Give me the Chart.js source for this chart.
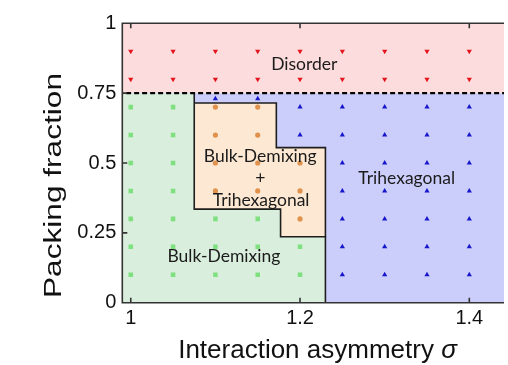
<!DOCTYPE html>
<html>
<head>
<meta charset="utf-8">
<script src="https://cdn.jsdelivr.net/npm/chart.js@4/dist/chart.umd.min.js"></script>
<style>
  html, body { margin: 0; padding: 0; background: #fff; }
  #wrap { width: 508px; height: 365px; }
</style>
</head>
<body>
<div id="wrap"><canvas id="canvas" width="508" height="365"></canvas></div>
<script>
// phase diagram, packing fraction vs interaction asymmetry sigma
const xTicks = [1, 1.2, 1.4]
const xTickLabels = ['1', '1.2', '1.4']
const yTicks = [0, 0.25, 0.5, 0.75, 1]
const yTickLabels = ['0', '0.25', '0.5', '0.75', '1']

// simulated state points: [sigma, packing fractions]
const disorder = [
  [1.00, [0.8, 0.9]], [1.05, [0.8, 0.9]], [1.10, [0.8, 0.9]], [1.15, [0.8, 0.9]], [1.20, [0.8, 0.9]],
  [1.25, [0.8, 0.9]], [1.30, [0.8, 0.9]], [1.35, [0.8, 0.9]], [1.40, [0.8, 0.9]]
]
const bulkDemixing = [
  [1.00, [0.1, 0.2, 0.3, 0.4, 0.5, 0.6, 0.7]],
  [1.05, [0.1, 0.2, 0.3, 0.4, 0.5, 0.6, 0.7]],
  [1.10, [0.1, 0.2, 0.3]],
  [1.15, [0.1, 0.2, 0.3]],
  [1.20, [0.1, 0.2]]
]
const coexist = [
  [1.10, [0.4, 0.5, 0.6, 0.7]],
  [1.15, [0.4, 0.5, 0.6, 0.7]],
  [1.20, [0.3, 0.4, 0.5]]
]
const trihexagonal = [
  [1.10, [0.73]],
  [1.15, [0.73]],
  [1.20, [0.6, 0.7]],
  [1.25, [0.1, 0.2, 0.3, 0.4, 0.5, 0.6, 0.7]],
  [1.30, [0.1, 0.2, 0.3, 0.4, 0.5, 0.6, 0.7]],
  [1.35, [0.1, 0.2, 0.3, 0.4, 0.5, 0.6, 0.7]],
  [1.40, [0.1, 0.2, 0.3, 0.4, 0.5, 0.6, 0.7]]
]

// phase regions (data coords)
const disorderRegion = [[0.9, 0.75], [1.5, 0.75], [1.5, 1], [0.9, 1], [0.9, 0.75]]
const trihexRegion = [[0.9, 0], [1.5, 0], [1.5, 0.75], [0.9, 0.75], [0.9, 0]]
const bulkRegion = [[0.9, 0], [0.9, 0.75], [1.075, 0.75], [1.075, 0.335], [1.177, 0.335], [1.177, 0.236], [1.23, 0.236], [1.23, 0], [0.9, 0]]
const coexistRegion = [[1.075, 0.335], [1.075, 0.715], [1.172, 0.715], [1.172, 0.555], [1.23, 0.555], [1.23, 0.236], [1.177, 0.236], [1.177, 0.335], [1.075, 0.335]]
const boundaryA = [[1.075, 0.75], [1.075, 0.335], [1.177, 0.335], [1.177, 0.236], [1.23, 0.236], [1.23, 0]]
const boundaryB = [[1.075, 0.715], [1.172, 0.715], [1.172, 0.555], [1.23, 0.555], [1.23, 0.236]]
const orderLine = [[0.9, 0.75], [1.5, 0.75]]

const phaseLabels = ['Disorder', 'Bulk-Demixing', '+', 'Trihexagonal', 'Trihexagonal', 'Bulk-Demixing']
const labelSigma = [1.205, 1.153, 1.153, 1.154, 1.326, 1.11]
const labelEta = [0.854, 0.525, 0.445, 0.368, 0.445, 0.165]

const pts = arr => arr.map(([x, y]) => ({x, y}))
const cols = arr => arr.flatMap(([s, etas]) => etas.map(e => ({x: s, y: e})))

const region = (data, color, order) => ({
  type: 'line', data: pts(data), fill: 'shape', backgroundColor: color,
  borderWidth: 0, pointRadius: 0, tension: 0, order
})
const border = (data, order, dash) => ({
  type: 'line', data: pts(data), fill: false, borderColor: dash ? '#000' : '#1e1e1e',
  borderWidth: dash ? 2.2 : 1.6, borderDash: dash || [], pointRadius: 0, tension: 0, order
})
const marks = (data, style, color, r, rot) => ({
  type: 'scatter', data: cols(data), pointStyle: style, pointRotation: rot || 0,
  backgroundColor: color, borderColor: color, borderWidth: 0, pointRadius: r, order: 2
})

const frame = {
  id: 'frame',
  afterDatasetsDraw(chart) {
    const {ctx, chartArea: a, scales: {x, y}} = chart
    ctx.save()
    ctx.fillStyle = '#1b1b1b'
    ctx.font = '17.5px Lato'
    ctx.textAlign = 'center'
    ctx.textBaseline = 'middle'
    phaseLabels.forEach((t, i) => ctx.fillText(t, x.getPixelForValue(labelSigma[i]), y.getPixelForValue(labelEta[i])))

    ctx.strokeStyle = '#333'
    ctx.lineWidth = 1.6
    ctx.beginPath()
    ctx.moveTo(a.right, a.top); ctx.lineTo(a.left, a.top)
    ctx.lineTo(a.left, a.bottom); ctx.lineTo(a.right, a.bottom)
    xTicks.forEach(v => {
      const px = x.getPixelForValue(v)
      ctx.moveTo(px, a.bottom); ctx.lineTo(px, a.bottom - 5)
      ctx.moveTo(px, a.top); ctx.lineTo(px, a.top + 5)
    })
    yTicks.slice(1, -1).forEach(v => {
      const py = y.getPixelForValue(v)
      ctx.moveTo(a.left, py); ctx.lineTo(a.left + 5, py)
    })
    ctx.stroke()

    // axis titles
    ctx.fillStyle = '#111'
    ctx.textBaseline = 'alphabetic'
    ctx.textAlign = 'left'
    const t1 = 'Interaction asymmetry '
    ctx.font = '26px "Liberation Sans"'
    const w1 = ctx.measureText(t1).width
    ctx.font = 'italic 26px "Liberation Sans"'
    const w2 = ctx.measureText('σ').width
    const x0 = 317.5 - (w1 + w2) / 2
    ctx.font = '26px "Liberation Sans"'
    ctx.fillText(t1, x0, 358)
    ctx.font = 'italic 26px "Liberation Sans"'
    ctx.fillText('σ', x0 + w1, 358)

    ctx.font = '23.5px "Liberation Sans"'
    ctx.textAlign = 'center'
    const yt = 'Packing fraction'
    const sx = 225 / ctx.measureText(yt).width
    ctx.translate(60.5, 185.5)
    ctx.rotate(-Math.PI / 2)
    ctx.scale(sx, 1)
    ctx.fillText(yt, 0, 0)
    ctx.restore()
  }
}

new Chart(document.getElementById('canvas'), {
  type: 'scatter',
  data: {
    datasets: [
      region(disorderRegion, '#fcdcdc', 10),
      region(trihexRegion, '#cbcdfa', 10),
      region(bulkRegion, '#d9eedc', 9),
      region(coexistRegion, '#fde8d3', 8),
      border(boundaryA, 5),
      border(boundaryB, 5),
      marks(disorder, 'triangle', '#e3141c', 3, 180),
      marks(bulkDemixing, 'rect', '#7ee07e', 3.2),
      marks(coexist, 'circle', '#e0914c', 2.6),
      marks(trihexagonal, 'triangle', '#1616cc', 3),
      border(orderLine, 0, [5, 3])
    ]
  },
  options: {
    responsive: false,
    animation: false,
    layout: { padding: { top: 23.3, right: 0, left: 0, bottom: 0 } },
    plugins: { legend: { display: false }, tooltip: { enabled: false } },
    scales: {
      x: {
        type: 'linear', min: 0.99, max: 1.441,
        afterBuildTicks: s => { s.ticks = xTicks.map(v => ({value: v})) },
        afterFit: s => { s.height = 62.3 },
        grid: { display: false, drawTicks: false },
        border: { display: false },
        ticks: {
          padding: 4, color: '#111', font: { family: 'Liberation Sans', size: 20 },
          callback: (v, i) => xTickLabels[i]
        }
      },
      y: {
        type: 'linear', min: 0, max: 1,
        afterBuildTicks: s => { s.ticks = yTicks.map(v => ({value: v})) },
        afterFit: s => { s.width = 122.3 },
        grid: { display: false, drawTicks: false },
        border: { display: false },
        ticks: {
          padding: 6, color: '#111', font: { family: 'Liberation Sans', size: 20 },
          callback: (v, i) => yTickLabels[i]
        }
      }
    }
  },
  plugins: [frame]
})
</script>
</body>
</html>
